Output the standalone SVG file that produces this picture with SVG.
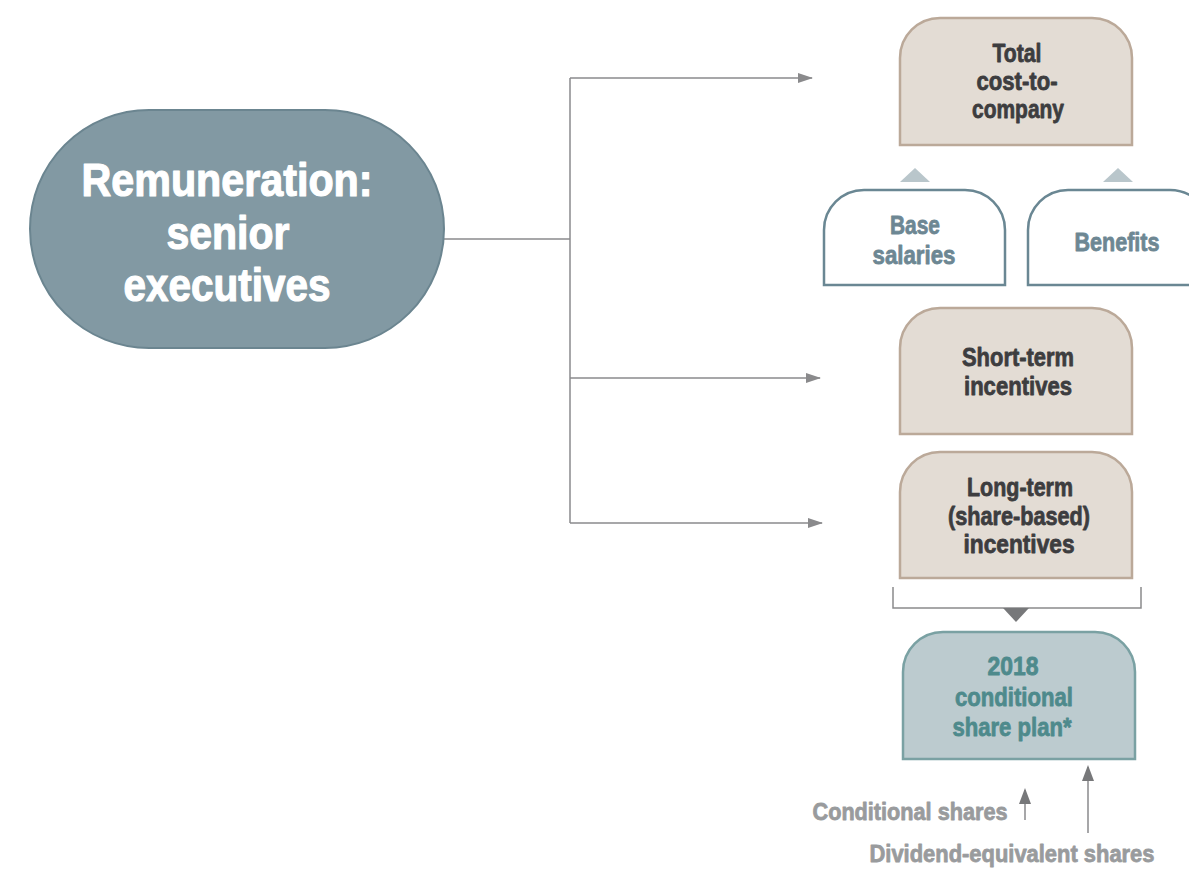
<svg xmlns="http://www.w3.org/2000/svg" width="1189" height="870" viewBox="0 0 1189 870">
  <style>
    .t { font-family: "Liberation Sans", Arial, sans-serif; font-weight: bold; text-anchor: middle; stroke-width: 0.8; stroke-linejoin: round; }
    .tan { fill: #e3dcd4; stroke: #bba999; stroke-width: 2.5; }
    .outline { fill: #ffffff; stroke: #6a8793; stroke-width: 2.5; }
    .plan { fill: #bccbcf; stroke: #7aa1a3; stroke-width: 2.5; }
    .white { fill: #ffffff; stroke: #ffffff; stroke-width: 1.2; font-size: 46px; }
    .dark { fill: #3d3d3f; stroke: #3d3d3f; font-size: 26px; }
    .slate { fill: #6d8793; stroke: #6d8793; font-size: 26px; }
    .teal { fill: #4e8a8c; stroke: #4e8a8c; font-size: 26px; }
    .grey { fill: #999b9d; stroke: #999b9d; font-size: 24px; }
    .conn { fill: none; stroke: #8a8a8c; stroke-width: 1.5; }
  </style>
  <defs>
    <marker id="arrow" markerWidth="16" markerHeight="10" refX="14" refY="5" orient="auto" markerUnits="userSpaceOnUse">
      <path d="M0,0 L15,5 L0,10 Z" fill="#8a8a8c"/>
    </marker>
    <marker id="arrow-up" markerWidth="16" markerHeight="12" refX="14" refY="6" orient="auto" markerUnits="userSpaceOnUse">
      <path d="M0,0 L16,6 L0,12 Z" fill="#77787a"/>
    </marker>
  </defs>

  <rect width="1189" height="870" fill="#ffffff"/>

  <!-- connectors -->
  <g id="connectors">
    <path class="conn" d="M444,239 H570"/>
    <path class="conn" d="M570,78 V523"/>
    <path class="conn" d="M570,78 H812" marker-end="url(#arrow)"/>
    <path class="conn" d="M570,378 H820" marker-end="url(#arrow)"/>
    <path class="conn" d="M570,523 H822" marker-end="url(#arrow)"/>
    <!-- components feeding into total cost -->
    <path d="M900,182 L915,168 L930,182 Z" fill="#b9c6cb"/>
    <path d="M1103,182 L1118,168 L1133,182 Z" fill="#b9c6cb"/>
    <!-- bracket grouping long-term incentives into the plan -->
    <path d="M893,587 V608 H1141 V587" fill="none" stroke="#8a8a8c" stroke-width="1.5"/>
    <path d="M1003,608 L1029,608 L1016,622 Z" fill="#77787a"/>
    <!-- share inflows -->
    <path class="conn" d="M1025,820 V790" stroke="#77787a" marker-end="url(#arrow-up)"/>
    <path class="conn" d="M1088,833 V767" stroke="#77787a" marker-end="url(#arrow-up)"/>
  </g>

  <g id="remuneration">
    <rect x="30" y="110" width="414" height="238" rx="119" ry="119" fill="#8299a3" stroke="#6b8590" stroke-width="2"/>
    <text class="t white" x="227" y="196" textLength="291" lengthAdjust="spacingAndGlyphs">Remuneration:</text>
    <text class="t white" x="228" y="249" textLength="123" lengthAdjust="spacingAndGlyphs">senior</text>
    <text class="t white" x="227" y="301" textLength="207" lengthAdjust="spacingAndGlyphs">executives</text>
  </g>

  <g id="total-cost">
    <path class="tan" d="M900,145 V58 A40,40 0 0 1 940,18 H1092 A40,40 0 0 1 1132,58 V145 Z"/>
    <text class="t dark" x="1017" y="62" textLength="49" lengthAdjust="spacingAndGlyphs">Total</text>
    <text class="t dark" x="1017" y="90" textLength="81" lengthAdjust="spacingAndGlyphs">cost-to-</text>
    <text class="t dark" x="1018" y="118" textLength="92" lengthAdjust="spacingAndGlyphs">company</text>
  </g>

  <g id="base-salaries">
    <path class="outline" d="M824,285 V230 A40,40 0 0 1 864,190 H965 A40,40 0 0 1 1005,230 V285 Z"/>
    <text class="t slate" x="915" y="234" textLength="50" lengthAdjust="spacingAndGlyphs">Base</text>
    <text class="t slate" x="914" y="264" textLength="83" lengthAdjust="spacingAndGlyphs">salaries</text>
  </g>

  <g id="benefits">
    <path class="outline" d="M1028,285 V230 A40,40 0 0 1 1068,190 H1170 A40,40 0 0 1 1210,230 V285 Z"/>
    <text class="t slate" x="1117" y="251" textLength="85" lengthAdjust="spacingAndGlyphs">Benefits</text>
  </g>

  <g id="short-term">
    <path class="tan" d="M900,434 V348 A40,40 0 0 1 940,308 H1092 A40,40 0 0 1 1132,348 V434 Z"/>
    <text class="t dark" x="1018" y="366" textLength="112" lengthAdjust="spacingAndGlyphs">Short-term</text>
    <text class="t dark" x="1018" y="395" textLength="108" lengthAdjust="spacingAndGlyphs">incentives</text>
  </g>

  <g id="long-term">
    <path class="tan" d="M900,578 V492 A40,40 0 0 1 940,452 H1092 A40,40 0 0 1 1132,492 V578 Z"/>
    <text class="t dark" x="1020" y="496" textLength="106" lengthAdjust="spacingAndGlyphs">Long-term</text>
    <text class="t dark" x="1019" y="525" textLength="142" lengthAdjust="spacingAndGlyphs">(share-based)</text>
    <text class="t dark" x="1019" y="553" textLength="111" lengthAdjust="spacingAndGlyphs">incentives</text>
  </g>

  <g id="share-plan">
    <path class="plan" d="M903,759 V672 A40,40 0 0 1 943,632 H1095 A40,40 0 0 1 1135,672 V759 Z"/>
    <text class="t teal" x="1013" y="675" textLength="51" lengthAdjust="spacingAndGlyphs">2018</text>
    <text class="t teal" x="1014" y="706" textLength="118" lengthAdjust="spacingAndGlyphs">conditional</text>
    <text class="t teal" x="1012" y="736" textLength="119" lengthAdjust="spacingAndGlyphs">share plan*</text>
  </g>

  <g id="conditional-shares">
    <text class="t grey" x="910" y="820" textLength="195" lengthAdjust="spacingAndGlyphs">Conditional shares</text>
  </g>

  <g id="dividend-shares">
    <text class="t grey" x="1012" y="862" textLength="285" lengthAdjust="spacingAndGlyphs">Dividend-equivalent shares</text>
  </g>
</svg>
